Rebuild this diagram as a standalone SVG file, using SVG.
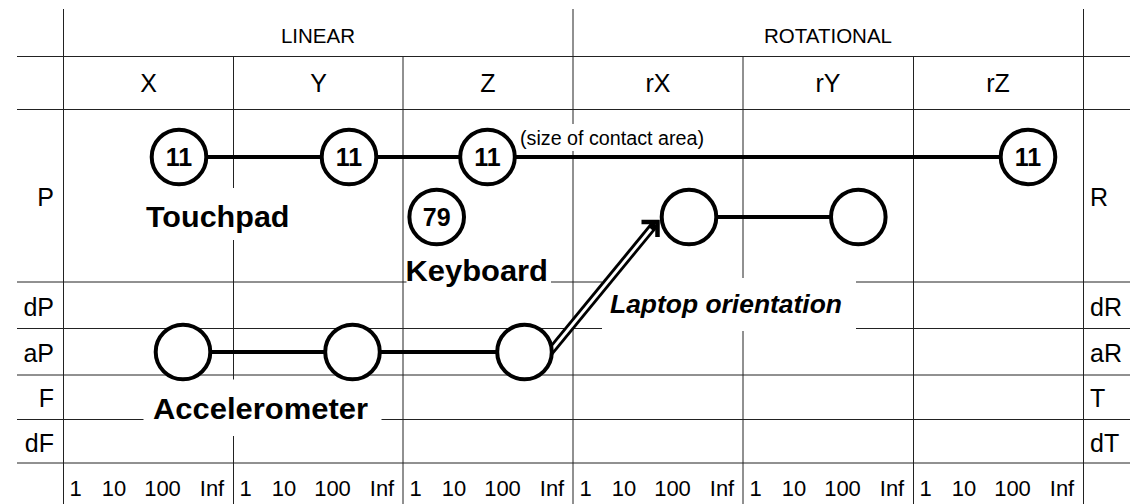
<svg xmlns="http://www.w3.org/2000/svg" width="1130" height="504" viewBox="0 0 1130 504">
<style>
  .grid line { stroke: #222; stroke-width: 1; }
  .t { font-family: "Liberation Sans", Arial, Helvetica, sans-serif; fill: #000; }
  .hdr { font-size: 20.5px; text-anchor: middle; }
  .col { font-size: 25px; text-anchor: middle; }
  .rowl { font-size: 25px; text-anchor: end; }
  .rowr { font-size: 25px; text-anchor: start; }
  .scale { font-size: 22px; text-anchor: middle; }
  .big { font-size: 30px; font-weight: bold; }
  .note { font-size: 19.5px; }
  .num { font-size: 25px; font-weight: bold; text-anchor: middle; }
  .bg { fill: #fff; stroke: none; }
  .node circle { fill: #fff; stroke: #000; stroke-width: 4; }
  .conn line { stroke: #000; stroke-width: 4; }
</style>
<defs>
  <g id="scaleRow">
    <text class="t scale" x="12.5" y="496">1</text>
    <text class="t scale" x="51" y="496">10</text>
    <text class="t scale" x="99.5" y="496">100</text>
    <text class="t scale" x="149" y="496">Inf</text>
  </g>
</defs>
<rect x="0" y="0" width="1130" height="504" fill="#fff"/>

<g id="grid" class="grid">
  <line x1="17" y1="56.5" x2="1130" y2="56.5"/>
  <line x1="17" y1="109.5" x2="1130" y2="109.5"/>
  <line x1="17" y1="282" x2="1130" y2="282"/>
  <line x1="17" y1="328.5" x2="1130" y2="328.5"/>
  <line x1="17" y1="375" x2="1130" y2="375"/>
  <line x1="17" y1="419.5" x2="1130" y2="419.5"/>
  <line x1="17" y1="463" x2="1130" y2="463"/>
  <line x1="63.5" y1="9" x2="63.5" y2="504"/>
  <line x1="573" y1="9" x2="573" y2="504"/>
  <line x1="1083.5" y1="9" x2="1083.5" y2="504"/>
  <line x1="233.5" y1="56" x2="233.5" y2="504"/>
  <line x1="403" y1="56" x2="403" y2="504"/>
  <line x1="743" y1="56" x2="743" y2="504"/>
  <line x1="913.5" y1="56" x2="913.5" y2="504"/>
</g>

<g id="headers">
  <text class="t hdr" x="318" y="43">LINEAR</text>
  <text class="t hdr" x="828" y="43">ROTATIONAL</text>
  <text class="t col" x="148.5" y="92">X</text>
  <text class="t col" x="318.5" y="92">Y</text>
  <text class="t col" x="488" y="92">Z</text>
  <text class="t col" x="658" y="92">rX</text>
  <text class="t col" x="828" y="92">rY</text>
  <text class="t col" x="998" y="92">rZ</text>
  <text class="t rowl" x="54" y="205.5">P</text>
  <text class="t rowl" x="54" y="315.5">dP</text>
  <text class="t rowl" x="54" y="362">aP</text>
  <text class="t rowl" x="54" y="407">F</text>
  <text class="t rowl" x="54" y="451.5">dF</text>
  <text class="t rowr" x="1090" y="205.5">R</text>
  <text class="t rowr" x="1090" y="315.5">dR</text>
  <text class="t rowr" x="1090" y="362">aR</text>
  <text class="t rowr" x="1090" y="407">T</text>
  <text class="t rowr" x="1090" y="451.5">dT</text>
  <use href="#scaleRow" x="63"/>
  <use href="#scaleRow" x="233"/>
  <use href="#scaleRow" x="403"/>
  <use href="#scaleRow" x="573"/>
  <use href="#scaleRow" x="743"/>
  <use href="#scaleRow" x="913"/>
</g>

<g id="label-touchpad">
  <rect class="bg" x="137" y="188" width="161" height="52"/>
  <text class="t big" x="146" y="226.7" textLength="143.5" lengthAdjust="spacingAndGlyphs">Touchpad</text>
</g>
<g id="label-keyboard">
  <rect class="bg" x="406.5" y="255" width="144.5" height="34"/>
  <text class="t big" x="405.5" y="281" textLength="142.5" lengthAdjust="spacingAndGlyphs">Keyboard</text>
</g>
<g id="label-accelerometer">
  <rect class="bg" x="143.5" y="379.5" width="238" height="56.5"/>
  <text class="t big" x="153" y="419.3" textLength="215" lengthAdjust="spacingAndGlyphs">Accelerometer</text>
</g>
<g id="label-laptop-orientation">
  <rect class="bg" x="602" y="278" width="254" height="53"/>
  <text class="t big" x="610" y="313.3" style="font-style:italic;font-size:26px" textLength="232" lengthAdjust="spacingAndGlyphs">Laptop orientation</text>
</g>
<g id="label-contact-area">
  <rect class="bg" x="517" y="124" width="191" height="27"/>
  <text class="t note" x="520" y="144.5" textLength="184" lengthAdjust="spacingAndGlyphs">(size of contact area)</text>
</g>

<g id="connectors" class="conn">
  <line x1="179" y1="157" x2="349" y2="157"/>
  <line x1="349" y1="157" x2="487.5" y2="157"/>
  <line x1="487.5" y1="157" x2="1028" y2="157"/>
  <line x1="689" y1="217" x2="858.3" y2="217"/>
  <line x1="183" y1="352" x2="352.5" y2="352"/>
  <line x1="352.5" y1="352" x2="524.5" y2="352"/>
  <g id="arrow-acc-to-orientation">
    <path d="M545,358 L655,224" fill="none" stroke="#000" stroke-width="8.5"/>
    <path d="M545,358 L651,229" fill="none" stroke="#fff" stroke-width="2.8"/>
    <polyline points="641.5,222 657.5,222 657.5,237" fill="none" stroke="#000" stroke-width="4.5" stroke-linejoin="miter"/>
  </g>
</g>

<g id="node-touch-x" class="node"><circle cx="179" cy="157" r="27.3"/><text class="t num" x="179" y="166">11</text></g>
<g id="node-touch-y" class="node"><circle cx="349" cy="157" r="27.3"/><text class="t num" x="349" y="166">11</text></g>
<g id="node-touch-z" class="node"><circle cx="487.5" cy="157" r="27.3"/><text class="t num" x="487.5" y="166">11</text></g>
<g id="node-touch-rz" class="node"><circle cx="1028" cy="157" r="27.3"/><text class="t num" x="1028" y="166">11</text></g>
<g id="node-keyboard" class="node"><circle cx="436.7" cy="217" r="27.3"/><text class="t num" x="436.7" y="226">79</text></g>
<g id="node-orient-rx" class="node"><circle cx="689" cy="217" r="27.3"/></g>
<g id="node-orient-ry" class="node"><circle cx="858.3" cy="217" r="27.3"/></g>
<g id="node-acc-x" class="node"><circle cx="183" cy="352" r="27.3"/></g>
<g id="node-acc-y" class="node"><circle cx="352.5" cy="352" r="27.3"/></g>
<g id="node-acc-z" class="node"><circle cx="524.5" cy="352" r="27.3"/></g>
</svg>
